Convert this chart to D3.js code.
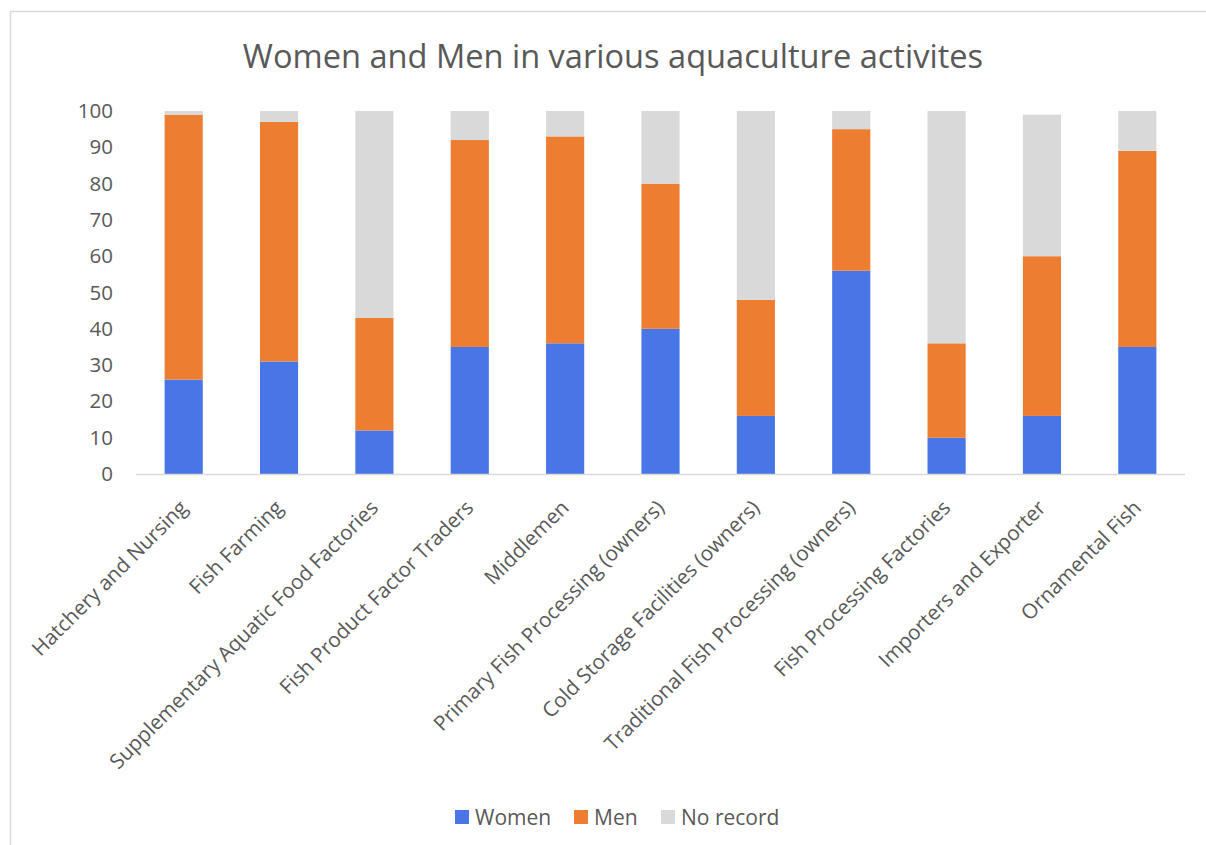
<!DOCTYPE html>
<html>
<head>
<meta charset="utf-8">
<script src="https://cdn.jsdelivr.net/npm/d3@7"></script>
<style>
  html, body { margin: 0; padding: 0; background: #fff; }
  svg { display: block; }
  text { font-family: "Open Sans", "DejaVu Sans", sans-serif; fill: #595959; }
</style>
</head>
<body>
<svg id="chart" width="1206" height="845"></svg>
<script>
const categories = [
  "Hatchery and Nursing",
  "Fish Farming",
  "Supplementary Aquatic Food Factories",
  "Fish Product Factor Traders",
  "Middlemen",
  "Primary Fish Processing (owners)",
  "Cold Storage Facilities (owners)",
  "Traditional Fish Processing (owners)",
  "Fish Processing Factories",
  "Importers and Exporter",
  "Ornamental Fish"
];
const women    = [26, 31, 12, 35, 36, 40, 16, 56, 10, 16, 35];
const men      = [73, 66, 31, 57, 57, 40, 32, 39, 26, 44, 54];
const noRecord = [ 1,  3, 57,  8,  7, 20, 52,  5, 64, 39, 11];
const seriesNames = ["Women", "Men", "No record"];
const yTicks = [0, 10, 20, 30, 40, 50, 60, 70, 80, 90, 100];
const title = "Women and Men in various aquaculture activites";

const colors = ["#4876E6", "#ED7D31", "#D9D9D9"];

const svg = d3.select("#chart");

// chart frame
svg.append("rect")
  .attr("x", 10.5).attr("y", 11.5)
  .attr("width", 1220).attr("height", 860)
  .attr("fill", "#fff").attr("stroke", "#D9D9D9").attr("stroke-width", 1.5);

// title
svg.append("text")
  .attr("x", 613).attr("y", 68)
  .attr("text-anchor", "middle")
  .attr("font-size", 32.6)
  .text(title);

const x = d3.scaleBand().domain(categories).range([136, 1185]).paddingInner(0.6).paddingOuter(0.3);
const y = d3.scaleLinear().domain([0, 100]).range([474, 111]);

const table = categories.map((c, i) => ({ cat: c, Women: women[i], Men: men[i], "No record": noRecord[i] }));
const stacked = d3.stack().keys(seriesNames)(table);

const g = svg.append("g");
g.selectAll("g.series")
  .data(stacked)
  .join("g")
  .attr("class", "series")
  .attr("fill", (d, i) => colors[i])
  .selectAll("rect")
  .data(d => d)
  .join("rect")
  .attr("x", d => x(d.data.cat))
  .attr("width", x.bandwidth())
  .attr("y", d => y(d[1]))
  .attr("height", d => y(d[0]) - y(d[1]));

// y axis labels
const yAxis = d3.axisLeft(y).tickValues(yTicks).tickSize(0).tickPadding(0);
const yg = svg.append("g").attr("transform", "translate(113,0)").call(yAxis);
yg.select(".domain").remove();
yg.selectAll("text").attr("font-size", 20.5).attr("fill", "#595959")
  .attr("font-family", "Open Sans, DejaVu Sans, sans-serif");

// x axis
const xAxis = d3.axisBottom(x).tickSize(0).tickPadding(0);
const xg = svg.append("g").attr("transform", "translate(0,474)").call(xAxis);
xg.select(".domain").attr("stroke", "#D9D9D9").attr("stroke-width", 1.5)
  .attr("d", "M136,0.5H1185");
xg.selectAll(".tick text")
  .attr("font-size", 20.6).attr("fill", "#595959")
  .attr("font-family", "Open Sans, DejaVu Sans, sans-serif")
  .attr("text-anchor", "end")
  .attr("dy", 0)
  .attr("y", 0)
  .attr("transform", "translate(5,35) rotate(-45)");

// legend
const legendX = [455, 574, 661];
const lg = svg.append("g");
seriesNames.forEach((s, i) => {
  lg.append("rect").attr("x", legendX[i]).attr("y", 810).attr("width", 14).attr("height", 14).attr("fill", colors[i]);
  lg.append("text").attr("x", legendX[i] + 20).attr("y", 825).attr("font-size", 21).text(s);
});
</script>
</body>
</html>
